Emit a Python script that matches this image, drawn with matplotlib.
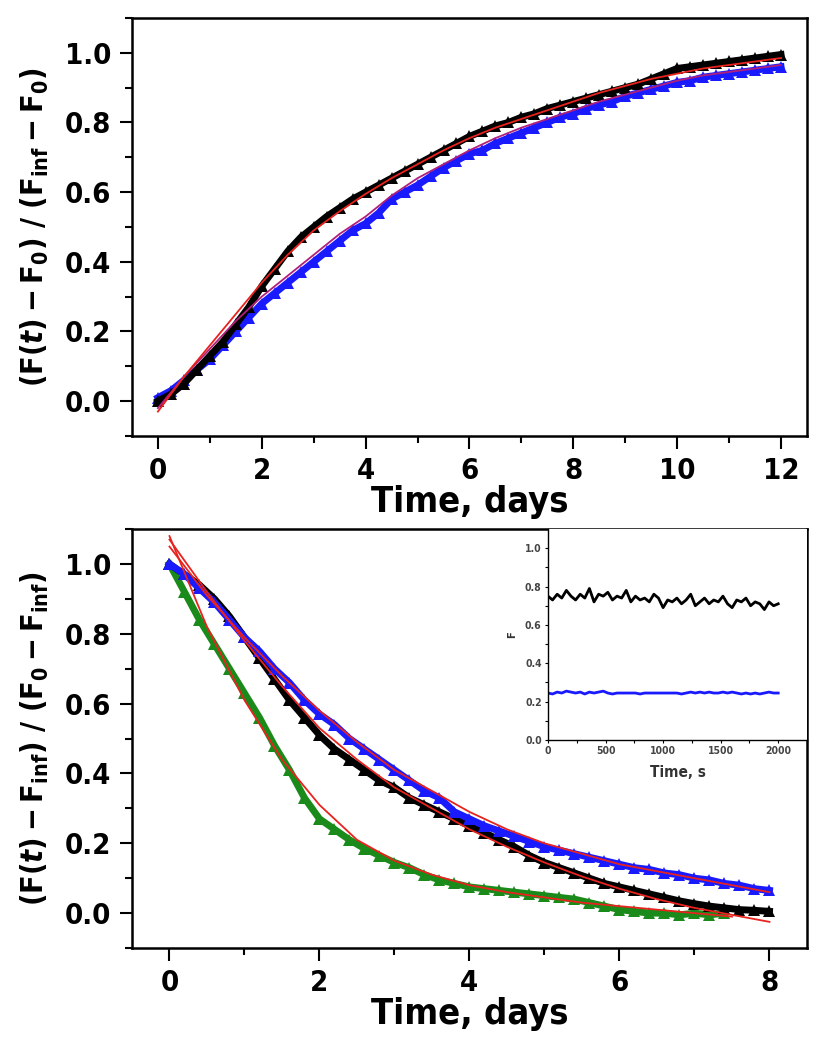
import numpy as np
import matplotlib
matplotlib.use("Agg")
import matplotlib.pyplot as plt
from matplotlib.ticker import MultipleLocator, FormatStrFormatter

plt.rcParams['font.family'] = ['DejaVu Sans']
plt.rcParams['font.stretch'] = 'condensed'
plt.rcParams['font.weight'] = 'bold'
plt.rcParams['mathtext.fontset'] = 'custom'
plt.rcParams['mathtext.rm'] = 'DejaVu Sans:weight=bold:stretch=condensed'
plt.rcParams['mathtext.it'] = 'DejaVu Sans:weight=bold:style=italic:stretch=condensed'
plt.rcParams['mathtext.bf'] = 'DejaVu Sans:weight=bold:stretch=condensed'

# ---- top panel: rise, time in days ----
t_up = np.arange(0, 12.01, 0.25)
up_black = [0.0, 0.02, 0.05, 0.09, 0.13, 0.17, 0.22, 0.27, 0.33, 0.38, 0.43, 0.47,
            0.50, 0.53, 0.555, 0.58, 0.60, 0.62, 0.64, 0.66, 0.68, 0.70, 0.72, 0.74,
            0.76, 0.775, 0.79, 0.80, 0.815, 0.825, 0.84, 0.85, 0.86, 0.87, 0.88, 0.89,
            0.90, 0.91, 0.925, 0.94, 0.955, 0.96, 0.965, 0.97, 0.975, 0.98, 0.985, 0.99, 0.995]
up_blue = [0.01, 0.03, 0.06, 0.09, 0.12, 0.16, 0.20, 0.24, 0.28, 0.31, 0.34, 0.37,
           0.40, 0.43, 0.46, 0.49, 0.51, 0.54, 0.58, 0.60, 0.62, 0.645, 0.67, 0.69,
           0.71, 0.72, 0.74, 0.755, 0.77, 0.785, 0.80, 0.815, 0.825, 0.84, 0.85, 0.86,
           0.875, 0.885, 0.895, 0.905, 0.915, 0.92, 0.93, 0.935, 0.94, 0.945, 0.95, 0.955, 0.96]
t_upfit = np.arange(0, 12.01, 0.5)
fit_up_black = [-0.03, 0.07, 0.16, 0.25, 0.34, 0.42, 0.49, 0.545, 0.595, 0.64, 0.68, 0.72,
                0.755, 0.785, 0.81, 0.835, 0.86, 0.885, 0.905, 0.925, 0.94, 0.955, 0.965, 0.975, 0.985]
fit_up_blue = [-0.02, 0.07, 0.15, 0.23, 0.30, 0.36, 0.42, 0.48, 0.53, 0.59, 0.64, 0.68,
               0.72, 0.755, 0.785, 0.81, 0.835, 0.86, 0.88, 0.90, 0.92, 0.935, 0.945, 0.955, 0.965]

# ---- bottom panel: decay, time in days ----
t_dn = np.arange(0, 8.01, 0.2)
dn_black = [1.00, 0.97, 0.94, 0.90, 0.85, 0.79, 0.73, 0.67, 0.61, 0.56, 0.51, 0.47, 0.44,
            0.41, 0.38, 0.36, 0.33, 0.31, 0.29, 0.27, 0.25, 0.23, 0.21, 0.19, 0.165, 0.145,
            0.13, 0.115, 0.10, 0.085, 0.075, 0.065, 0.055, 0.045, 0.035, 0.027, 0.02, 0.015,
            0.01, 0.008, 0.005]
dn_blue = [1.00, 0.97, 0.93, 0.89, 0.84, 0.79, 0.75, 0.70, 0.66, 0.61, 0.57, 0.54, 0.50,
           0.47, 0.44, 0.41, 0.38, 0.35, 0.33, 0.29, 0.27, 0.25, 0.235, 0.22, 0.205, 0.19,
           0.18, 0.17, 0.16, 0.15, 0.14, 0.13, 0.125, 0.115, 0.11, 0.10, 0.095, 0.085, 0.08,
           0.07, 0.065]
dn_green = [1.00, 0.92, 0.84, 0.77, 0.70, 0.63, 0.56, 0.48, 0.41, 0.33, 0.27, 0.24, 0.21,
            0.185, 0.165, 0.145, 0.13, 0.11, 0.095, 0.085, 0.075, 0.07, 0.065, 0.06, 0.055,
            0.05, 0.045, 0.04, 0.03, 0.02, 0.01, 0.005, 0.0, 0.0, -0.005, 0.0, -0.005, 0.0]
t_dnfit = np.arange(0, 8.01, 0.5)
fit_dn_green = [1.08, 0.82, 0.61, 0.44, 0.31, 0.21, 0.15, 0.11, 0.08, 0.06, 0.045, 0.03,
                0.02, 0.01, 0.0, -0.01]
fit_dn_black = [1.07, 0.92, 0.78, 0.65, 0.53, 0.44, 0.36, 0.30, 0.24, 0.19, 0.145, 0.105,
                0.07, 0.04, 0.015, -0.005, -0.025]
fit_dn_blue = [1.05, 0.91, 0.79, 0.68, 0.58, 0.49, 0.41, 0.35, 0.29, 0.24, 0.20, 0.17,
               0.14, 0.12, 0.10, 0.08, 0.06]

# ---- inset: F vs time in seconds ----
t_ins = np.arange(0, 2001, 40)
ins_black = [0.75, 0.73, 0.76, 0.74, 0.78, 0.75, 0.73, 0.76, 0.74, 0.79, 0.72, 0.76,
             0.75, 0.77, 0.73, 0.75, 0.74, 0.78, 0.72, 0.75, 0.73, 0.74, 0.72, 0.76,
             0.74, 0.69, 0.73, 0.72, 0.74, 0.71, 0.73, 0.76, 0.70, 0.72, 0.74, 0.71,
             0.73, 0.72, 0.75, 0.71, 0.69, 0.73, 0.72, 0.74, 0.70, 0.72, 0.71, 0.68,
             0.72, 0.70, 0.71]
ins_blue = [0.245, 0.24, 0.25, 0.245, 0.255, 0.25, 0.245, 0.25, 0.24, 0.25, 0.245, 0.25,
            0.255, 0.245, 0.24, 0.245, 0.245, 0.245, 0.245, 0.245, 0.24, 0.245, 0.245, 0.245,
            0.245, 0.245, 0.245, 0.245, 0.245, 0.24, 0.245, 0.25, 0.245, 0.25, 0.245, 0.25,
            0.245, 0.245, 0.25, 0.245, 0.25, 0.245, 0.24, 0.245, 0.24, 0.245, 0.24, 0.245,
            0.25, 0.245, 0.245]

fig = plt.figure(figsize=(8.31, 10.5), dpi=100)
ax1 = fig.add_axes([0.1588, 0.5848, 0.8123, 0.3981])
ax2 = fig.add_axes([0.1588, 0.0971, 0.8123, 0.3990])


def data(ax, x, y, c):
    ax.plot(x, y, color=c, lw=5, marker='^', ms=8, mew=0, zorder=2)


def fit(ax, x, y, c='#e8231e'):
    ax.plot(x, y, color=c, lw=1.3, zorder=3)


def style(ax, xmax):
    for s in ax.spines.values():
        s.set_linewidth(1.8)
    ax.set_ylim(-0.1, 1.1)
    ax.set_xlim(-0.5, xmax + 0.5)
    ax.xaxis.set_major_locator(MultipleLocator(2))
    ax.xaxis.set_minor_locator(MultipleLocator(1))
    ax.yaxis.set_major_locator(MultipleLocator(0.2))
    ax.yaxis.set_minor_locator(MultipleLocator(0.1))
    ax.yaxis.set_major_formatter(FormatStrFormatter('%.1f'))
    ax.tick_params(which='major', direction='out', length=9, width=1.5, labelsize=21, pad=6)
    ax.tick_params(which='minor', direction='out', length=5, width=1.5)
    ax.set_xlabel('Time, days', fontsize=26, fontweight='bold', labelpad=0)


data(ax1, t_up, up_blue, '#1a1aff')
data(ax1, t_up, up_black, 'black')
fit(ax1, t_upfit, fit_up_blue, '#b0207a')
fit(ax1, t_upfit, fit_up_black)
style(ax1, 12)
ax1.set_ylabel(r'$\mathrm{(F(}\mathit{t}\mathrm{) - F_0)\ /\ (F_{inf} - F_0)}$', fontsize=22, labelpad=10)

data(ax2, t_dn[:len(dn_green)], dn_green, '#1a8a1a')
data(ax2, t_dn, dn_black, 'black')
data(ax2, t_dn, dn_blue, '#1a1aff')
fit(ax2, t_dnfit[:len(fit_dn_green)], fit_dn_green)
fit(ax2, t_dnfit, fit_dn_black)
fit(ax2, t_dnfit, fit_dn_blue)
style(ax2, 8)
ax2.set_ylabel(r'$\mathrm{(F(}\mathit{t}\mathrm{) - F_{inf})\ /\ (F_0 - F_{inf})}$', fontsize=22, labelpad=10)

ins = fig.add_axes([0.6594, 0.2952, 0.3117, 0.2010])
ins.plot(t_ins, ins_black, color='black', lw=2)
ins.plot(t_ins, ins_blue, color='#1a1aff', lw=2)
ins.set_xlim(0, 2250)
ins.set_ylim(0, 1.1)
ins.xaxis.set_major_locator(MultipleLocator(500))
ins.xaxis.set_minor_locator(MultipleLocator(250))
ins.yaxis.set_major_locator(MultipleLocator(0.2))
ins.yaxis.set_minor_locator(MultipleLocator(0.1))
ins.yaxis.set_major_formatter(FormatStrFormatter('%.1f'))
ins.tick_params(which='both', direction='out', length=2.5, width=0.8, labelsize=7.5,
                labelcolor='#444444', pad=2)
for s in ins.spines.values():
    s.set_linewidth(1.0)
ins.spines['top'].set_visible(False)
ins.spines['right'].set_visible(False)
ins.set_xlabel('Time, s', fontsize=11, fontweight='bold', color='#333333', labelpad=6)
ins.set_ylabel('F', fontsize=8, fontweight='bold', color='#333333', labelpad=6)

fig.savefig('out.png', dpi=100)
